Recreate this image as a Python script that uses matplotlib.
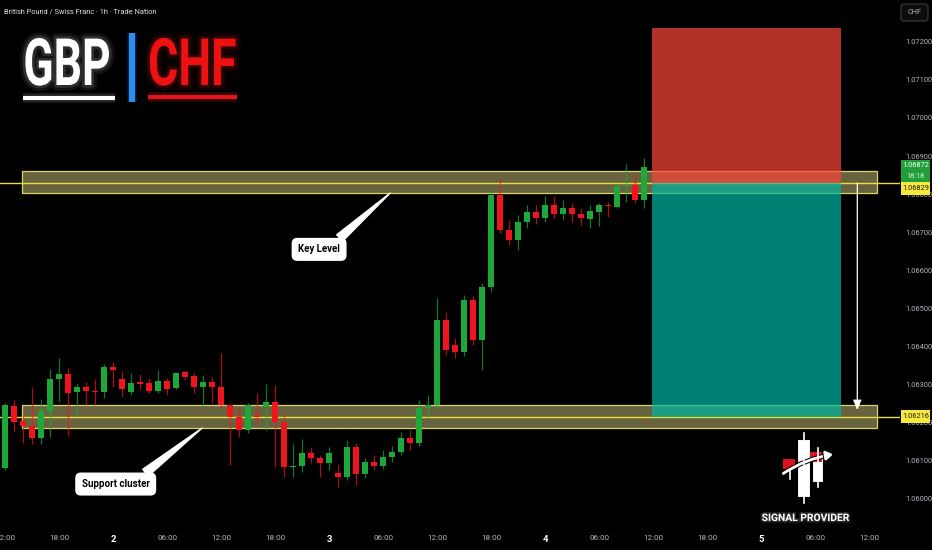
import numpy as np
import matplotlib
matplotlib.use("Agg")
import matplotlib.pyplot as plt
import matplotlib.patheffects as pe
from matplotlib.patches import Rectangle, FancyBboxPatch, FancyArrowPatch
from matplotlib.transforms import Affine2D
from matplotlib import font_manager

# GBPCHF 1h candles (hour 0 = day 1 12:00)
opens = [
    1.06081, 1.06244, 1.06204, 1.06191, 1.06160, 1.06231, 1.06315, 1.06328, 1.06281, 1.06294,
    1.06283, 1.06281, 1.06346, 1.06315, 1.06281, 1.06307, 1.06304, 1.06283, 1.06309, 1.06291,
    1.06333, 1.06323, 1.06294, 1.06307, 1.06294, 1.06246, 1.06215, 1.06181, 1.06220, 1.06241,
    1.06254, 1.06202, 1.06084, 1.06086, 1.06120, 1.06107, 1.06094, 1.06068, 1.06057, 1.06136,
    1.06065, 1.06097, 1.06086, 1.06110, 1.06123, 1.06160, 1.06147, 1.06239, 1.06246, 1.06470,
    1.06404, 1.06386, 1.06522, 1.06417, 1.06556, 1.06798, 1.06706, 1.06680, 1.06727, 1.06753,
    1.06737, 1.06771, 1.06748, 1.06764, 1.06748, 1.06735, 1.06753, 1.06771, 1.06766, 1.06821,
    1.06824, 1.06785]
highs = [
    1.06252, 1.06260, 1.06218, 1.06294, 1.06262, 1.06341, 1.06370, 1.06344, 1.06304, 1.06307,
    1.06315, 1.06354, 1.06359, 1.06336, 1.06330, 1.06328, 1.06317, 1.06338, 1.06317, 1.06333,
    1.06335, 1.06330, 1.06325, 1.06320, 1.06383, 1.06248, 1.06239, 1.06252, 1.06278, 1.06302,
    1.06299, 1.06225, 1.06144, 1.06157, 1.06136, 1.06115, 1.06136, 1.06092, 1.06155, 1.06147,
    1.06107, 1.06115, 1.06128, 1.06139, 1.06176, 1.06181, 1.06260, 1.06273, 1.06527, 1.06491,
    1.06422, 1.06535, 1.06533, 1.06567, 1.06811, 1.06842, 1.06732, 1.06745, 1.06771, 1.06771,
    1.06795, 1.06795, 1.06785, 1.06777, 1.06764, 1.06771, 1.06777, 1.06779, 1.06829, 1.06879,
    1.06855, 1.06895]
lows = [
    1.06076, 1.06176, 1.06147, 1.06144, 1.06144, 1.06162, 1.06254, 1.06165, 1.06220, 1.06246,
    1.06246, 1.06265, 1.06294, 1.06267, 1.06273, 1.06288, 1.06278, 1.06278, 1.06273, 1.06288,
    1.06312, 1.06278, 1.06241, 1.06252, 1.06241, 1.06089, 1.06162, 1.06173, 1.06199, 1.06181,
    1.06084, 1.06057, 1.06057, 1.06071, 1.06094, 1.06057, 1.06076, 1.06031, 1.06050, 1.06036,
    1.06055, 1.06076, 1.06078, 1.06097, 1.06115, 1.06128, 1.06139, 1.06212, 1.06233, 1.06378,
    1.06370, 1.06375, 1.06404, 1.06338, 1.06543, 1.06698, 1.06667, 1.06653, 1.06711, 1.06722,
    1.06727, 1.06737, 1.06732, 1.06727, 1.06719, 1.06711, 1.06716, 1.06740, 1.06764, 1.06779,
    1.06777, 1.06764]
closes = [
    1.06246, 1.06202, 1.06191, 1.06160, 1.06231, 1.06315, 1.06328, 1.06278, 1.06294, 1.06283,
    1.06281, 1.06346, 1.06338, 1.06288, 1.06304, 1.06302, 1.06283, 1.06309, 1.06288, 1.06330,
    1.06320, 1.06294, 1.06307, 1.06294, 1.06246, 1.06215, 1.06181, 1.06246, 1.06215, 1.06254,
    1.06202, 1.06084, 1.06086, 1.06120, 1.06107, 1.06094, 1.06120, 1.06057, 1.06136, 1.06065,
    1.06097, 1.06086, 1.06110, 1.06123, 1.06160, 1.06147, 1.06239, 1.06246, 1.06470, 1.06391,
    1.06386, 1.06522, 1.06417, 1.06556, 1.06798, 1.06706, 1.06680, 1.06727, 1.06753, 1.06737,
    1.06771, 1.06748, 1.06764, 1.06748, 1.06737, 1.06756, 1.06771, 1.06769, 1.06821, 1.06824,
    1.06785, 1.06872]

tick_hours = [0, 6, 12, 18, 24, 30, 36, 42, 48, 54, 60, 66, 72, 78, 84, 90, 96]
tick_labels = ["12:00", "18:00", "2", "06:00", "12:00", "18:00", "3", "06:00", "12:00",
               "18:00", "4", "06:00", "12:00", "18:00", "5", "06:00", "12:00"]
price_ticks = [1.060, 1.061, 1.062, 1.063, 1.064, 1.065, 1.066,
               1.067, 1.068, 1.069, 1.070, 1.071, 1.072]

key_zone = (1.06803, 1.06861)
support_zone = (1.06186, 1.06246)
entry_price = 1.06829
target_price = 1.06216
stop_price = 1.07236
last_price = 1.06872
last_countdown = "18:18"

# zones / position tool extents in hours
zone_start, zone_end = 1.9, 96.9
pos_start, pos_end = 71.9, 92.9

names = {f.name for f in font_manager.fontManager.ttflist}
narrow = "Liberation Sans Narrow" if "Liberation Sans Narrow" in names else "Roboto"

BG = "#000000"
UP = "#1fa83a"
DOWN = "#f0141c"
GREY = "#b2b5be"

W, H = 932, 550
fig = plt.figure(figsize=(W / 100, H / 100), dpi=100, facecolor=BG)
ax = fig.add_axes([0, 25 / H, 900 / W, 525 / H], facecolor=BG)

# candles
o = np.array(opens); c = np.array(closes)
hours = np.arange(len(o))
cols = np.where(c >= o, UP, DOWN)
ax.vlines(hours, lows, highs, colors=cols, linewidth=0.9, alpha=0.7, zorder=3)
ax.bar(hours, np.maximum(np.abs(c - o), 0.00003), bottom=np.minimum(o, c),
       width=0.66, color=cols, linewidth=0, zorder=4)

# key level + support zones
for lo, hi in (key_zone, support_zone):
    ax.add_patch(Rectangle((zone_start, lo), zone_end - zone_start, hi - lo,
                           fc="#e6dc8c", alpha=0.45, lw=0, zorder=2))
    ax.add_patch(Rectangle((zone_start, lo), zone_end - zone_start, hi - lo,
                           fill=False, ec="#ddd466", lw=0.9, zorder=2.5))
ax.axhline(entry_price, color="#eadf3c", lw=1.0, zorder=2.6)
ax.axhline(target_price, color="#eadf3c", lw=1.0, zorder=2.6)

# short position tool
ax.add_patch(Rectangle((pos_start, entry_price), pos_end - pos_start, stop_price - entry_price,
                       fc="#fe4539", alpha=0.7, lw=0, zorder=5))
ax.add_patch(Rectangle((pos_start, target_price), pos_end - pos_start, entry_price - target_price,
                       fc="#00b7a4", alpha=0.7, lw=0, zorder=5))
ax.annotate("", xy=(94.7, 1.06233), xytext=(94.7, entry_price),
            arrowprops=dict(arrowstyle="-|>,head_length=0.6,head_width=0.25", color="white",
                            lw=0.9, shrinkA=0, shrinkB=0), zorder=6)

# callouts
callout_font = dict(fontsize=7.0, fontweight="bold", color="black", family=narrow)
ax.annotate("Key Level", xy=(42.8, 1.06803), xytext=(34.9, 1.06655), ha="center", va="center",
            bbox=dict(boxstyle="round,pad=0.6,rounding_size=0.5", fc="white", ec="white"),
            arrowprops=dict(arrowstyle="wedge,tail_width=0.9,shrink_factor=0.5", fc="white",
                            ec="white", relpos=(0.82, 1.0), shrinkA=0, shrinkB=0),
            zorder=7, **callout_font)
ax.annotate("Support cluster", xy=(21.9, 1.06186), xytext=(12.3, 1.06039), ha="center", va="center",
            bbox=dict(boxstyle="round,pad=0.6,rounding_size=0.5", fc="white", ec="white"),
            arrowprops=dict(arrowstyle="wedge,tail_width=0.9,shrink_factor=0.5", fc="white",
                            ec="white", relpos=(0.82, 1.0), shrinkA=0, shrinkB=0),
            zorder=7, **callout_font)

ax.set_xlim(-5 / 9, 895 / 9)
ax.set_ylim(1.059315, 1.073096)
for s in ax.spines.values():
    s.set_visible(False)

ax.yaxis.tick_right()
ax.set_yticks(price_ticks, [f"{p:.5f}" for p in price_ticks])
ax.tick_params(axis="y", length=0, pad=4, labelcolor=GREY, labelsize=5.4)
ax.set_xticks(tick_hours, tick_labels)
ax.tick_params(axis="x", length=0, pad=7, labelcolor=GREY, labelsize=5.8)
for lab in ax.get_yticklabels() + ax.get_xticklabels():
    lab.set_family(narrow)
for lab in ax.get_xticklabels():
    if len(lab.get_text()) == 1:
        lab.set_color("white")
        lab.set_fontweight("bold")
        lab.set_fontsize(6.8)

# right-side price tags
ytr = ax.get_yaxis_transform()
bw = 29 / 900
ax.add_patch(Rectangle((1.001, 1.06832), bw, 0.00058, transform=ytr, fc="#1f9e3a",
                       lw=0, clip_on=False, zorder=8))
ax.text(1.001 + bw / 2, 1.06876, f"{last_price:.5f}", transform=ytr, ha="center", va="center",
        fontsize=5.3, color="white", family=narrow, zorder=9)
ax.text(1.001 + bw / 2, 1.06847, last_countdown, transform=ytr, ha="center", va="center",
        fontsize=5.3, color="#d8f0dc", family=narrow, zorder=9)
for p, y0 in ((entry_price, 1.06797), (target_price, 1.06199)):
    ax.add_patch(Rectangle((1.001, y0), bw, 0.00034, transform=ytr, fc="#f7e83c",
                           lw=0, clip_on=False, zorder=8))
    ax.text(1.001 + bw / 2, y0 + 0.00017, f"{p:.5f}", transform=ytr, ha="center", va="center",
            fontsize=5.3, color="#1a1a1a", family=narrow, zorder=9)

# overlay in pixel coordinates for header and branding
ov = fig.add_axes([0, 0, 1, 1], zorder=10)
ov.set_xlim(0, W)
ov.set_ylim(H, 0)
ov.axis("off")

ov.add_patch(FancyBboxPatch((901, 4), 27, 17, boxstyle="round,pad=0,rounding_size=3",
                            fc="#0c0c0c", ec="#3a3d45", lw=0.8))
ov.text(914.5, 12.5, "CHF", ha="center", va="center", fontsize=5.3, color=GREY, family=narrow)
ov.text(4, 12, "British Pound / Swiss Franc · 1h · Trade Nation", ha="left", va="center",
        fontsize=5.3, color="#e0e3eb", family=narrow)


class Squeezed(pe.AbstractPathEffect):
    """draw text path squeezed horizontally around x0 (display px)"""
    def __init__(self, sx, x0, inner=None):
        super().__init__()
        self.sx, self.x0, self.inner = sx, x0, inner

    def draw_path(self, renderer, gc, tpath, affine, rgbFace=None):
        aff = affine + Affine2D().translate(-self.x0, 0).scale(self.sx, 1).translate(self.x0, 0)
        if self.inner is None:
            renderer.draw_path(gc, tpath, aff, rgbFace)
        else:
            self.inner.draw_path(renderer, gc, tpath, aff, rgbFace)


def glow_effects(sx, x0, color):
    return [Squeezed(sx, x0, pe.Stroke(linewidth=8, foreground=color, alpha=0.07)),
            Squeezed(sx, x0, pe.Stroke(linewidth=4, foreground=color, alpha=0.12)),
            Squeezed(sx, x0)]


ov.text(67, 85, "GBP", ha="center", va="baseline", fontsize=47, fontweight="bold",
        family="Roboto", color="white", path_effects=glow_effects(0.68, 67, "white"))
ov.text(148, 85, "CHF", ha="left", va="baseline", fontsize=47, fontweight="bold",
        family="Roboto", color="#ee1111", path_effects=glow_effects(0.71, 148, "#ff2020"))
bar_glow = [pe.Stroke(linewidth=7, foreground="#3a90ff", alpha=0.15), pe.Normal()]
ov.plot([132, 132], [33, 102], color="#2a8ff0", lw=4.5, solid_capstyle="butt", path_effects=bar_glow)
ov.plot([23, 115], [97.5, 97.5], color="white", lw=3, solid_capstyle="butt",
        path_effects=[pe.Stroke(linewidth=7, foreground="white", alpha=0.12), pe.Normal()])
ov.plot([148, 237], [96.5, 96.5], color="#e5141a", lw=3, solid_capstyle="butt",
        path_effects=[pe.Stroke(linewidth=7, foreground="#ff2020", alpha=0.18), pe.Normal()])

# signal provider badge
ov.plot([803.5, 803.5], [433, 503], color="white", lw=1.2)
ov.add_patch(Rectangle((797, 439), 13, 58, fc="white", ec="black", lw=0.8))
ov.plot([817.5, 817.5], [448, 487], color="white", lw=1.2)
ov.add_patch(Rectangle((812, 453), 11, 29, fc="white", ec="black", lw=0.8))
ov.plot([790, 790], [470, 479], color="white", lw=1.2)
ov.add_patch(Rectangle((783, 459), 12, 10, fc="#d8141c", lw=0))
ov.add_patch(Rectangle((810, 452), 12, 10, fc="#d8141c", lw=0))
ov.add_patch(FancyArrowPatch((781, 475), (836, 454), connectionstyle="arc3,rad=-0.12",
                             arrowstyle="-|>,head_length=4,head_width=2.5", color="white", lw=2,
                             path_effects=[pe.Stroke(linewidth=3.5, foreground="black"), pe.Normal()]))
ov.text(805, 518, "SIGNAL PROVIDER", ha="center", va="center", fontsize=7.4, fontweight="bold",
        color="white", family="Roboto",
        path_effects=[pe.Stroke(linewidth=2.5, foreground="white", alpha=0.15), pe.Normal()])

fig.savefig("out.png", dpi=100, facecolor=BG)
